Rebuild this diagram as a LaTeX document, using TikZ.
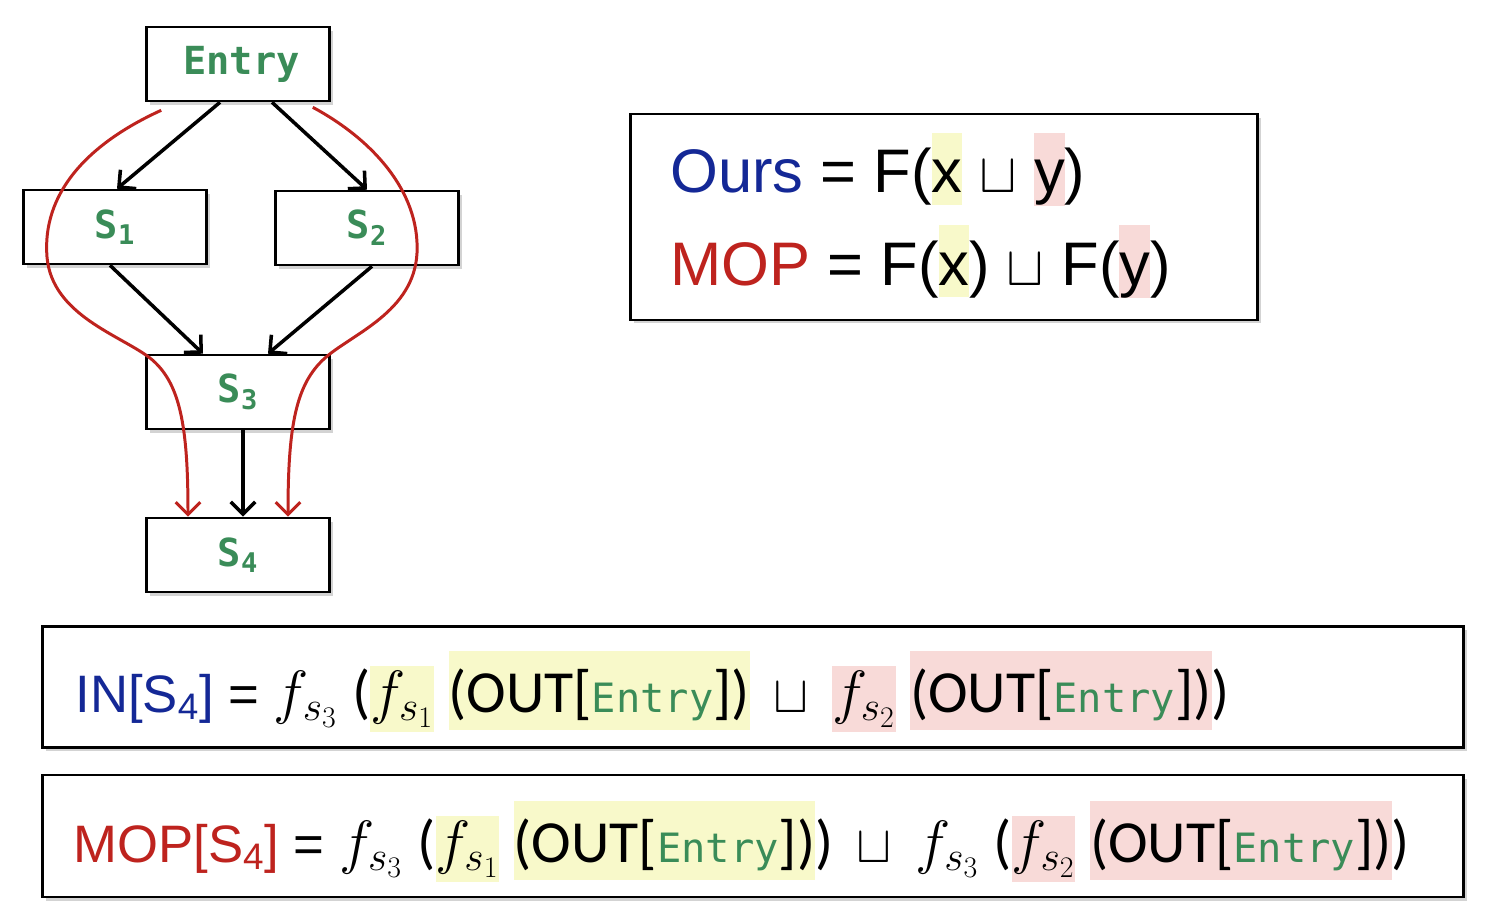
\RequirePackage{fix-cm}
\documentclass[tikz,border=0pt]{standalone}
\usepackage[no-math]{fontspec}
\setmainfont{Liberation Sans}
\newfontfamily\calib{Carlito}
\newfontfamily\cons{DejaVu Sans Mono}
\usetikzlibrary{arrows.meta, positioning, calc, shadows}

\definecolor{entrygreen}{RGB}{58,140,88}
\definecolor{oursblue}{RGB}{20,40,150}
\definecolor{mopred}{RGB}{190,35,30}
\definecolor{hlyel}{RGB}{248,249,202}
\definecolor{hlpink}{RGB}{248,218,216}

% highlight: colour, total height, depth, text
\newcommand{\hlbox}[4]{{\setlength{\fboxsep}{0pt}\colorbox{#1}{\rule[-#3]{0pt}{#2}#4}}}
\newcommand{\topy}[1]{\hlbox{hlyel}{1.17em}{0.2em}{#1}}
\newcommand{\topp}[1]{\hlbox{hlpink}{1.17em}{0.2em}{#1}}
\newcommand{\ysm}[1]{\hlbox{hlyel}{1.25em}{0.38em}{#1}}
\newcommand{\psm}[1]{\hlbox{hlpink}{1.25em}{0.38em}{#1}}
\newcommand{\ybig}[1]{\hlbox{hlyel}{1.5em}{0.34em}{#1}}
\newcommand{\pbig}[1]{\hlbox{hlpink}{1.5em}{0.34em}{#1}}
\newcommand{\calp}[1]{{\calib\fontsize{34}{40}\selectfont #1}}
\newcommand{\outentry}{\calp{(OUT[}{\cons\fontsize{23}{26}\selectfont\color{entrygreen}Entry}\calp{])}}
\newcommand{\fs}[1]{{\fontsize{34}{40}\selectfont$f_{s_{#1}}$}}
\newcommand{\topsq}{{\fontsize{32}{34}\selectfont$\sqcup$}}
\newcommand{\eqsq}{\,$\sqcup$\,}

\tikzset{
  stmt/.style={draw, line width=1.5pt, fill=white, minimum width=3.66cm,
    minimum height=1.48cm, text=entrygreen,
    font=\cons\bfseries\fontsize{22}{26}\selectfont,
    drop shadow={shadow xshift=2pt, shadow yshift=-2pt, opacity=0.35}},
  eqbox/.style={draw, line width=1.5pt, fill=white, inner sep=0pt,
    drop shadow={shadow xshift=2pt, shadow yshift=-2pt, opacity=0.35}},
  flow/.style={line width=2pt, -{Straight Barb[length=7pt,width=14pt]}},
  path/.style={mopred, line width=1.7pt, -{Straight Barb[length=7pt,width=14pt]}},
  eqtext/.style={anchor=base west, inner sep=0pt, font=\fontsize{30}{36}\selectfont},
}

\begin{document}
\begin{tikzpicture}[x=0.02cm, y=-0.02cm]
    \useasboundingbox (0,0) rectangle (1490,922);
    % CFG
    \node[stmt] (entry) at (238,64) {\hspace{4pt}Entry};
    \node[stmt] (s1) at (115,227) {S\textsubscript{1}};
    \node[stmt] (s2) at (367,228) {S\textsubscript{2}};
    \node[stmt] (s3) at (238,392) {S\textsubscript{3}};
    \node[stmt] (s4) at (238,555) {S\textsubscript{4}};
    \draw[flow] ($(entry.south)+(-18,0)$) -- ($(s1.north)+(2,0)$);
    \draw[flow] ($(entry.south)+(34,0)$) -- (s2.north);
    \draw[flow] ($(s1.south)+(-5,0)$) -- ($(s3.north)+(-35,0)$);
    \draw[flow] ($(s2.south)+(5,0)$) -- ($(s3.north)+(30,0)$);
    \draw[flow] ($(s3.south)+(5,0)$) -- ($(s4.north)+(5,0)$);
    % paths through S1 and S2
    \draw[path] ($(entry.south west)+(16,8)$) .. controls (85,145) and (42,195) .. (47,257)
        .. controls (52,315) and (120,335) .. (150,358)
        .. controls (180,382) and (188,425) .. ($(s4.north)+(-50,0)$);
    \draw[path] ($(entry.south east)+(-18,5)$) .. controls (370,138) and (420,190) .. (417,253)
        .. controls (414,312) and (352,334) .. (325,358)
        .. controls (296,384) and (288,425) .. ($(s4.north)+(50,0)$);
    % Ours vs MOP
    \node[eqbox, minimum width=12.54cm, minimum height=4.12cm] (cmp) at (944,217) {};
    \node[eqtext, font=\fontsize{35}{40}\selectfont] (ours) at (670,193)
        {{\color{oursblue}Ours} = F(\topy{x} \topsq{} \topp{y})};
    \node[eqtext, font=\fontsize{35}{40}\selectfont] (mop) at (670,285)
        {{\color{mopred}MOP} = F(\topy{x}) \topsq{} F(\topp{y})};
    % equations
    \node[eqbox, minimum width=28.42cm, minimum height=2.42cm] (inbox) at (753,687) {};
    \node[eqbox, minimum width=28.42cm, minimum height=2.44cm] (mopbox) at (753,836) {};
    \node[eqtext] (ineq) at (75,712)
        {{\color{oursblue}IN[S\textsubscript{4}]} = \fs{3} \calp{(}\ysm{\fs{1}} \ybig{\outentry} \eqsq{} \psm{\fs{2}} \pbig{\outentry}\calp{)}};
    \node[eqtext] (mopeq) at (73,862)
        {{\color{mopred}MOP[S\textsubscript{4}]} = \fs{3} \calp{(}\ysm{\fs{1}} \ybig{\outentry}\calp{)} \eqsq{} \fs{3} \calp{(}\psm{\fs{2}} \pbig{\outentry}\calp{)}};
\end{tikzpicture}
\end{document}
